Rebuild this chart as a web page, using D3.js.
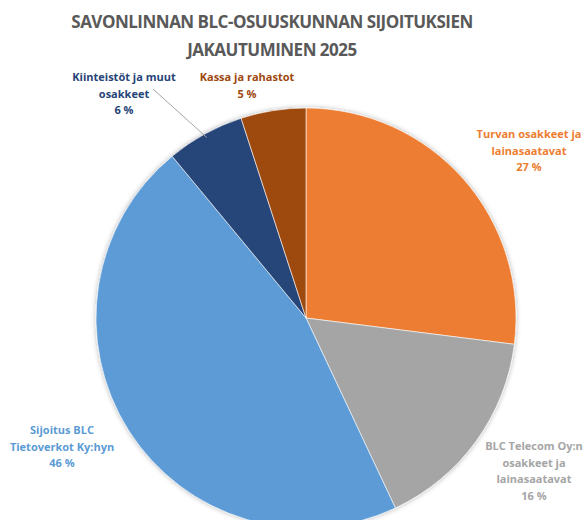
<!DOCTYPE html>
<html>
<head>
<meta charset="utf-8">
<script src="https://cdn.jsdelivr.net/npm/d3@7"></script>
<style>
  html, body { margin: 0; padding: 0; background: #fff; }
  svg { display: block; }
</style>
</head>
<body>
<div id="chart"></div>
<script>
// Savonlinnan BLC-osuuskunnan sijoitusten jakautuminen 2025 - pie chart

const categories = [
  "Turvan osakkeet ja lainasaatavat",
  "BLC Telecom Oy:n osakkeet ja lainasaatavat",
  "Sijoitus BLC Tietoverkot Ky:hyn",
  "Kiinteistöt ja muut osakkeet",
  "Kassa ja rahastot"
];
const shares = [27, 16, 46, 6, 5];
const labelLines = [
  ["Turvan osakkeet ja", "lainasaatavat"],
  ["BLC Telecom Oy:n", "osakkeet ja", "lainasaatavat"],
  ["Sijoitus BLC", "Tietoverkot Ky:hyn"],
  ["Kiinteistöt ja muut", "osakkeet"],
  ["Kassa ja rahastot"]
];
const colors = ["#ED7D31", "#A5A5A5", "#5B9BD5", "#264478", "#9E480E"];

const width = 588, height = 520;
const cx = 306, cy = 318, radius = 210;
const fontFamily = "'Open Sans', 'Noto Sans', sans-serif";

// label placement (centre x, first baseline y) for each slice
const labelPos = [
  { x: 529, y: 138 },
  { x: 534, y: 450 },
  { x: 62,  y: 434 },
  { x: 124, y: 81 },
  { x: 247, y: 81 }
];
const lineHeight = 16.5;

const data = categories.map((c, i) => ({ name: c, value: shares[i], lines: labelLines[i], color: colors[i], pos: labelPos[i] }));

const svg = d3.select("#chart")
  .append("svg")
  .attr("width", width)
  .attr("height", height);

const defs = svg.append("defs");
const shadow = defs.append("filter").attr("id", "shadow")
  .attr("x", "-10%").attr("y", "-10%").attr("width", "120%").attr("height", "120%");
shadow.append("feDropShadow")
  .attr("dx", 0).attr("dy", 0)
  .attr("stdDeviation", 2.5)
  .attr("flood-color", "#000")
  .attr("flood-opacity", 0.3);

// Title
svg.append("text")
  .attr("x", 272)
  .attr("y", 28)
  .attr("text-anchor", "middle")
  .style("font-family", fontFamily)
  .style("font-size", "17px")
  .style("letter-spacing", "-0.5px")
  .style("font-weight", "bold")
  .style("fill", "#595959")
  .selectAll("tspan")
  .data(["SAVONLINNAN BLC-OSUUSKUNNAN SIJOITUKSIEN", "JAKAUTUMINEN 2025"])
  .join("tspan")
  .attr("x", 272)
  .attr("dy", (d, i) => i === 0 ? 0 : 28)
  .text(d => d);

const pie = d3.pie()
  .value(d => d.value)
  .sort(null);

const arc = d3.arc()
  .innerRadius(0)
  .outerRadius(radius);

const arcs = pie(data);

const g = svg.append("g")
  .attr("transform", `translate(${cx}, ${cy})`);

g.append("g")
  .attr("filter", "url(#shadow)")
  .selectAll("path")
  .data(arcs)
  .join("path")
  .attr("d", arc)
  .attr("fill", d => d.data.color)
  .attr("stroke", "#fff")
  .attr("stroke-width", 0.6);

// Leader line for the small dark blue slice
const edgeArc = d3.arc().innerRadius(radius - 4).outerRadius(radius - 4);
const kiint = arcs[3];
const edge = edgeArc.centroid(kiint);
svg.append("line")
  .attr("x1", 153).attr("y1", 89)
  .attr("x2", cx + edge[0]).attr("y2", cy + edge[1])
  .attr("stroke", "#A6A6A6")
  .attr("stroke-width", 1);

// Labels
const labels = svg.append("g")
  .selectAll("text")
  .data(arcs)
  .join("text")
  .attr("text-anchor", "middle")
  .style("font-family", fontFamily)
  .style("font-size", "11px")
  .style("font-weight", "bold")
  .style("fill", d => d.data.color);

labels.each(function (d) {
  const t = d3.select(this);
  const lines = d.data.lines.concat([d.data.value + " %"]);
  lines.forEach((l, i) => {
    t.append("tspan")
      .attr("x", d.data.pos.x)
      .attr("y", d.data.pos.y + i * lineHeight)
      .text(l);
  });
});
</script>
</body>
</html>
